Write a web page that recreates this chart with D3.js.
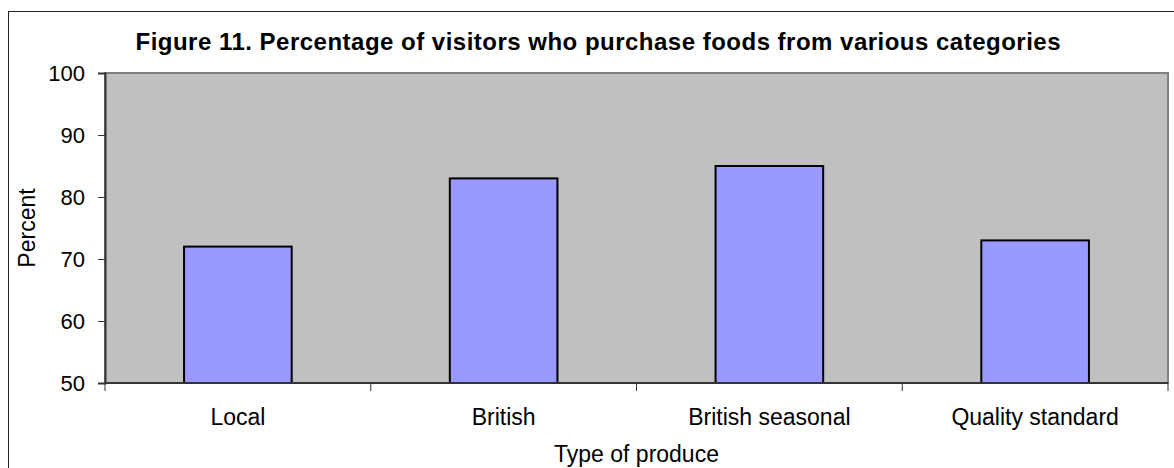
<!DOCTYPE html>
<html>
<head>
<meta charset="utf-8">
<script src="https://cdn.jsdelivr.net/npm/d3@7"></script>
<style>
  html, body { margin: 0; padding: 0; background: #ffffff; }
  svg { display: block; font-family: "Liberation Sans", Arial, sans-serif; }
</style>
</head>
<body>
<svg id="chart" width="1174" height="468"></svg>
<script>
// Produce categories and the share of visitors buying each (percent)
const categories = ["Local", "British", "British seasonal", "Quality standard"];
const percentValues = [72, 83, 85, 73];
const yTicks = [50, 60, 70, 80, 90, 100];

const titleText = "Figure 11. Percentage of visitors who purchase foods from various categories";
const xTitle = "Type of produce";
const yTitle = "Percent";

const svg = d3.select("#chart");
const W = 1174, H = 468;
const plot = { left: 105, top: 73, right: 1168, bottom: 383 };

// Outer chart frame
svg.append("rect")
  .attr("x", 8.5).attr("y", 11.5)
  .attr("width", W + 10).attr("height", H + 10)
  .attr("fill", "#ffffff")
  .attr("stroke", "#222222").attr("stroke-width", 1);

const x = d3.scaleBand()
  .domain(categories)
  .range([plot.left, plot.right])
  .paddingInner(0).paddingOuter(0);

const y = d3.scaleLinear()
  .domain([50, 100])
  .range([plot.bottom, plot.top]);

// Plot area background
svg.append("rect")
  .attr("x", plot.left).attr("y", plot.top)
  .attr("width", plot.right - plot.left).attr("height", plot.bottom - plot.top)
  .attr("fill", "#c0c0c0")
  .attr("stroke", "#808080").attr("stroke-width", 2);

// Bars
const barFrac = 0.405;
svg.append("g").selectAll("rect")
  .data(categories)
  .join("rect")
  .attr("x", (d) => x(d) + x.bandwidth() * (1 - barFrac) / 2)
  .attr("y", (d, i) => y(percentValues[i]))
  .attr("width", x.bandwidth() * barFrac)
  .attr("height", (d, i) => y(50) - y(percentValues[i]))
  .attr("fill", "#9999ff")
  .attr("stroke", "#000000").attr("stroke-width", 2);

// Y axis
const yAxis = svg.append("g")
  .attr("transform", `translate(${plot.left},0)`)
  .call(d3.axisLeft(y).tickValues(yTicks).tickSize(7).tickPadding(13));
yAxis.select(".domain").attr("stroke", "#333333").attr("stroke-width", 2);
yAxis.selectAll(".tick line").attr("stroke", "#333333");
yAxis.selectAll(".tick text")
  .attr("font-size", 22).attr("fill", "#000000")
  .attr("font-family", "Liberation Sans, Arial, sans-serif");

// X axis: ticks at category boundaries, labels centred in each band
const xAxis = svg.append("g")
  .attr("transform", `translate(0,${plot.bottom})`);
xAxis.append("line")
  .attr("x1", plot.left).attr("x2", plot.right)
  .attr("y1", 0).attr("y2", 0)
  .attr("stroke", "#333333").attr("stroke-width", 2);
const boundaries = categories.map((c) => x(c)).concat([plot.right]);
xAxis.selectAll("line.tick")
  .data(boundaries)
  .join("line")
  .attr("class", "tick")
  .attr("x1", (d) => d).attr("x2", (d) => d)
  .attr("y1", 0).attr("y2", 8)
  .attr("stroke", "#333333").attr("stroke-width", 1);
xAxis.selectAll("text")
  .data(categories)
  .join("text")
  .attr("x", (d) => x(d) + x.bandwidth() / 2)
  .attr("y", 42)
  .attr("text-anchor", "middle")
  .attr("font-size", 23)
  .attr("fill", "#000000")
  .text((d) => d);

// Title
svg.append("text")
  .attr("x", 598).attr("y", 50)
  .attr("text-anchor", "middle")
  .attr("font-size", 24).attr("font-weight", "bold")
  .attr("textLength", 925).attr("lengthAdjust", "spacing")
  .attr("fill", "#000000")
  .text(titleText);

// Axis titles
svg.append("text")
  .attr("x", (plot.left + plot.right) / 2).attr("y", 462)
  .attr("text-anchor", "middle")
  .attr("font-size", 23).attr("fill", "#000000")
  .text(xTitle);

svg.append("text")
  .attr("transform", `translate(35,${(plot.top + plot.bottom) / 2}) rotate(-90)`)
  .attr("text-anchor", "middle")
  .attr("font-size", 23).attr("fill", "#000000")
  .text(yTitle);
</script>
</body>
</html>
